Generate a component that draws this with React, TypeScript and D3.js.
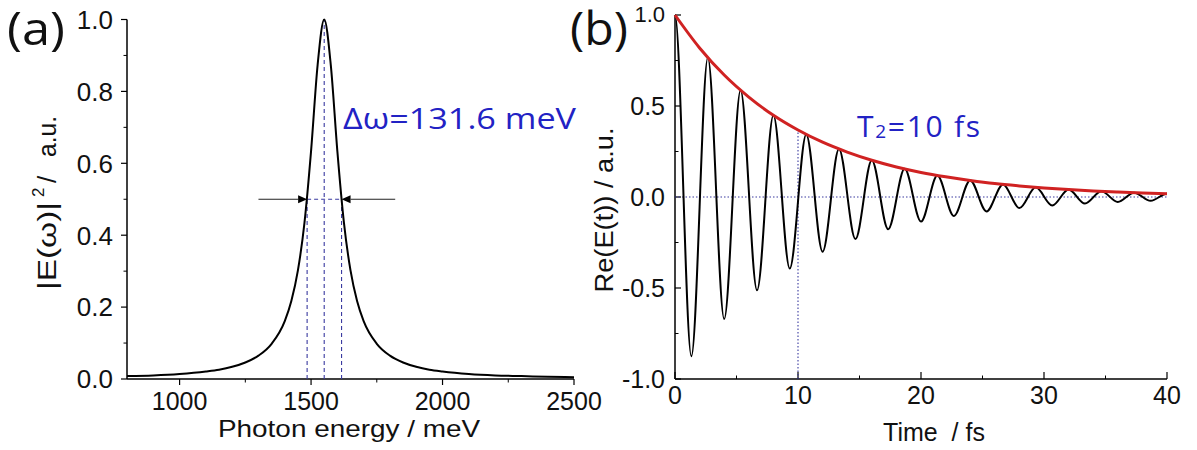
import React from "react";
import * as d3 from "d3";

// ---------- Panel (a): spectrum ----------
const spectrumEnergy = [800, 900, 1000, 1100, 1150, 1200, 1250, 1300, 1350, 1400, 1425, 1450, 1475, 1500, 1525, 1550, 1575, 1600, 1625, 1650, 1675, 1700, 1750, 1800, 1850, 1900, 1950, 2000, 2100, 2200, 2300, 2400, 2500];
const spectrumIntensity = [0.008, 0.010, 0.014, 0.021, 0.026, 0.034, 0.046, 0.065, 0.098, 0.161, 0.217, 0.302, 0.435, 0.634, 0.874, 1.0, 0.874, 0.634, 0.435, 0.302, 0.217, 0.161, 0.098, 0.065, 0.046, 0.034, 0.026, 0.021, 0.014, 0.010, 0.008, 0.006, 0.005];
const peakCenter = 1550;
const fwhmLow = 1485;
const fwhmHigh = 1616;
const arrowLeftStart = 1300;
const arrowRightStart = 1820;
const energyTicks = [1000, 1500, 2000, 2500];
const energyMinorTicks = [1250, 1750, 2250];
const intensityTicks = [0, 0.2, 0.4, 0.6, 0.8, 1.0];
const intensityMinorTicks = [0.1, 0.3, 0.5, 0.7, 0.9];

// ---------- Panel (b): time domain ----------
const fieldTime = [0, 1.33, 2.67, 4.0, 5.33, 6.67, 8.0, 9.33, 10.67, 12.0, 13.33, 14.67, 16.0, 17.33, 18.67, 20.0, 21.33, 22.67, 24.0, 25.33, 26.67, 28.0, 29.33, 30.67, 32.0, 33.33, 34.67, 36.0, 37.33, 38.67, 40.0];
const fieldValue = [1.0, -0.875, 0.766, -0.670, 0.587, -0.513, 0.449, -0.393, 0.344, -0.301, 0.264, -0.231, 0.202, -0.177, 0.155, -0.135, 0.118, -0.104, 0.091, -0.079, 0.069, -0.061, 0.053, -0.047, 0.041, -0.036, 0.031, -0.027, 0.024, -0.021, 0.018];
const envelopeTime = [0, 2, 4, 6, 8, 10, 12, 14, 16, 18, 20, 22, 24, 26, 28, 30, 32, 34, 36, 38, 40];
const envelopeValue = [1.0, 0.819, 0.670, 0.549, 0.449, 0.368, 0.301, 0.247, 0.202, 0.165, 0.135, 0.111, 0.091, 0.074, 0.061, 0.050, 0.041, 0.033, 0.027, 0.022, 0.018];
const dephasingTime = 10;
const dephasingValue = 0.368;
const timeTicks = [0, 10, 20, 30, 40];
const timeMinorTicks = [5, 15, 25, 35];
const fieldTicks = [-1.0, -0.5, 0.0, 0.5, 1.0];
const fieldMinorTicks = [-0.75, -0.25, 0.25, 0.75];

const tickFont = "'Liberation Sans', Arial, sans-serif";
const labelFont = "'Open Sans', 'Noto Sans', sans-serif";
const blue = "#2222c4";
const dashBlue = "#3a3aa0";

export default function App() {
  const xA = d3.scaleLinear().domain([800, 2500]).range([127, 574]);
  const yA = d3.scaleLinear().domain([0, 1]).range([379, 19.5]);
  const xB = d3.scaleLinear().domain([0, 40]).range([675, 1167]);
  const yB = d3.scaleLinear().domain([-1, 1]).range([379, 15]);

  const specPts: [number, number][] = spectrumEnergy.map((e, i) => [e, spectrumIntensity[i]]);
  const specPath = d3
    .line<[number, number]>()
    .x((d) => xA(d[0]))
    .y((d) => yA(d[1]))
    .curve(d3.curveMonotoneX)(specPts) as string;

  // oscillation: smooth Hermite segments with flat tangents at each extremum
  const fp = d3.path();
  fp.moveTo(xB(fieldTime[0]), yB(fieldValue[0]));
  for (let i = 1; i < fieldTime.length; i++) {
    const x0 = xB(fieldTime[i - 1]);
    const x1 = xB(fieldTime[i]);
    const h = x1 - x0;
    fp.bezierCurveTo(x0 + h / 3, yB(fieldValue[i - 1]), x1 - h / 3, yB(fieldValue[i]), x1, yB(fieldValue[i]));
  }
  const fieldPath = fp.toString();

  const envPts: [number, number][] = envelopeTime.map((t, i) => [t, envelopeValue[i]]);
  const envPath = d3
    .line<[number, number]>()
    .x((d) => xB(d[0]))
    .y((d) => yB(d[1]))
    .curve(d3.curveMonotoneX)(envPts) as string;

  const half = 0.5;
  const ah = 9; // arrow head length
  const aw = 4;

  return (
    <div style={{ position: "absolute", left: 0, top: 0 }}>
      <svg width={1197} height={450} style={{ display: "block", background: "#fff" }}>
        {/* ---------- Panel (a) ---------- */}
        <text x={7} y={45} fontFamily={labelFont} fontSize={46} textLength={58} lengthAdjust="spacingAndGlyphs" fill="#111">(a)</text>

        {/* axes */}
        <line x1={xA(800)} x2={xA(2500)} y1={yA(0)} y2={yA(0)} stroke="#000" strokeWidth={1.5} />
        <line x1={xA(800)} x2={xA(800)} y1={yA(0)} y2={yA(1)} stroke="#000" strokeWidth={1.5} />
        {energyTicks.map((t) => (
          <g key={"ea" + t}>
            <line x1={xA(t)} x2={xA(t)} y1={yA(0)} y2={yA(0) + 6} stroke="#000" strokeWidth={1.2} />
            <text x={xA(t)} y={410} textAnchor="middle" fontFamily={tickFont} fontSize={25} fill="#111">{t}</text>
          </g>
        ))}
        {energyMinorTicks.map((t) => (
          <line key={"em" + t} x1={xA(t)} x2={xA(t)} y1={yA(0)} y2={yA(0) + 3.5} stroke="#000" strokeWidth={1} />
        ))}
        {intensityTicks.map((t) => (
          <g key={"ia" + t}>
            <line x1={xA(800) - 6} x2={xA(800)} y1={yA(t)} y2={yA(t)} stroke="#000" strokeWidth={1.2} />
            <text x={113} y={yA(t)} dy="0.36em" textAnchor="end" fontFamily={tickFont} fontSize={26} fill="#111">{t.toFixed(1)}</text>
          </g>
        ))}
        {intensityMinorTicks.map((t) => (
          <line key={"im" + t} x1={xA(800) - 3.5} x2={xA(800)} y1={yA(t)} y2={yA(t)} stroke="#000" strokeWidth={1} />
        ))}
        <text x={349} y={437} textAnchor="middle" fontFamily={tickFont} fontSize={24} textLength={262} lengthAdjust="spacingAndGlyphs" fill="#111">Photon energy / meV</text>

        {/* y title pieces */}
        <g fontFamily={tickFont} fill="#111">
          <text transform="translate(56,290) rotate(-90)" fontSize={26} textLength={88} lengthAdjust="spacingAndGlyphs">|E(ω)|</text>
          <text transform="translate(44,197) rotate(-90)" fontSize={17}>2</text>
          <text transform="translate(56,183) rotate(-90)" fontSize={26}>/</text>
          <text transform="translate(56,157) rotate(-90)" fontSize={26} textLength={41} lengthAdjust="spacingAndGlyphs">a.u.</text>
        </g>

        {/* dashed guides */}
        <g stroke={dashBlue} strokeWidth={1.1} strokeDasharray="4,3" fill="none">
          <line x1={xA(fwhmLow)} x2={xA(fwhmLow)} y1={yA(0)} y2={yA(half)} />
          <line x1={xA(fwhmHigh)} x2={xA(fwhmHigh)} y1={yA(0)} y2={yA(half)} />
          <line x1={xA(peakCenter)} x2={xA(peakCenter)} y1={yA(0)} y2={yA(1)} />
          <line x1={xA(fwhmLow)} x2={xA(fwhmHigh)} y1={yA(half)} y2={yA(half)} />
        </g>

        {/* spectrum */}
        <path d={specPath} fill="none" stroke="#000" strokeWidth={2} />

        {/* arrows */}
        <line x1={xA(arrowLeftStart)} x2={xA(fwhmLow) - ah} y1={yA(half)} y2={yA(half)} stroke="#222" strokeWidth={1.2} />
        <path d={`M${xA(fwhmLow)},${yA(half)} L${xA(fwhmLow) - ah},${yA(half) - aw} L${xA(fwhmLow) - ah},${yA(half) + aw} Z`} fill="#000" />
        <line x1={xA(arrowRightStart)} x2={xA(fwhmHigh) + ah} y1={yA(half)} y2={yA(half)} stroke="#222" strokeWidth={1.2} />
        <path d={`M${xA(fwhmHigh)},${yA(half)} L${xA(fwhmHigh) + ah},${yA(half) - aw} L${xA(fwhmHigh) + ah},${yA(half) + aw} Z`} fill="#000" />

        <text x={343} y={128.5} fontFamily={labelFont} fontSize={30} textLength={233} lengthAdjust="spacingAndGlyphs" fill={blue}>Δω=131.6 meV</text>

        {/* ---------- Panel (b) ---------- */}
        <text x={570} y={45} fontFamily={labelFont} fontSize={46} textLength={58} lengthAdjust="spacingAndGlyphs" fill="#111">(b)</text>

        <line x1={xB(0)} x2={xB(40)} y1={yB(-1)} y2={yB(-1)} stroke="#000" strokeWidth={1.5} />
        <line x1={xB(0)} x2={xB(0)} y1={yB(-1)} y2={yB(1)} stroke="#000" strokeWidth={1.5} />
        {timeTicks.map((t) => (
          <g key={"tb" + t}>
            <line x1={xB(t)} x2={xB(t)} y1={yB(-1)} y2={yB(-1) - 7} stroke="#000" strokeWidth={1.2} />
            <text x={xB(t)} y={404} textAnchor="middle" fontFamily={tickFont} fontSize={25} fill="#111">{t}</text>
          </g>
        ))}
        {timeMinorTicks.map((t) => (
          <line key={"tm" + t} x1={xB(t)} x2={xB(t)} y1={yB(-1)} y2={yB(-1) - 3.5} stroke="#000" strokeWidth={1} />
        ))}
        {fieldTicks.map((t) => (
          <g key={"fb" + t}>
            <line x1={xB(0)} x2={xB(0) + 6} y1={yB(t)} y2={yB(t)} stroke="#000" strokeWidth={1.2} />
            <text x={665} y={t === 1 ? yB(t) - 1 : yB(t)} dy="0.36em" textAnchor="end" fontFamily={tickFont} fontSize={t === 1 ? 22 : 25} fill="#111">{t.toFixed(1)}</text>
          </g>
        ))}
        {fieldMinorTicks.map((t) => (
          <line key={"fm" + t} x1={xB(0)} x2={xB(0) + 3.5} y1={yB(t)} y2={yB(t)} stroke="#000" strokeWidth={1} />
        ))}
        <text x={934} y={441} textAnchor="middle" fontFamily={tickFont} fontSize={25} fill="#111" style={{ whiteSpace: "pre" }}>{"Time  / fs"}</text>
        <text transform="translate(613,210) rotate(-90)" textAnchor="middle" fontFamily={tickFont} fontSize={26} textLength={165} lengthAdjust="spacingAndGlyphs" fill="#111">Re(E(t)) / a.u.</text>

        {/* dotted guides */}
        <g stroke={dashBlue} strokeWidth={1.1} strokeDasharray="1.5,2" fill="none">
          <line x1={xB(0)} x2={xB(40)} y1={yB(0)} y2={yB(0)} />
          <line x1={xB(dephasingTime)} x2={xB(dephasingTime)} y1={yB(-1)} y2={yB(dephasingValue)} />
        </g>

        <path d={fieldPath} fill="none" stroke="#000" strokeWidth={2} />
        <path d={envPath} fill="none" stroke="#d02222" strokeWidth={3} />

        <text x={857} y={137} fontFamily={labelFont} fontSize={30} textLength={123} lengthAdjust="spacing" fill={blue}>
          T<tspan fontSize={19} dy={1}>2</tspan><tspan dy={-1}>=10 fs</tspan>
        </text>
      </svg>
    </div>
  );
}
